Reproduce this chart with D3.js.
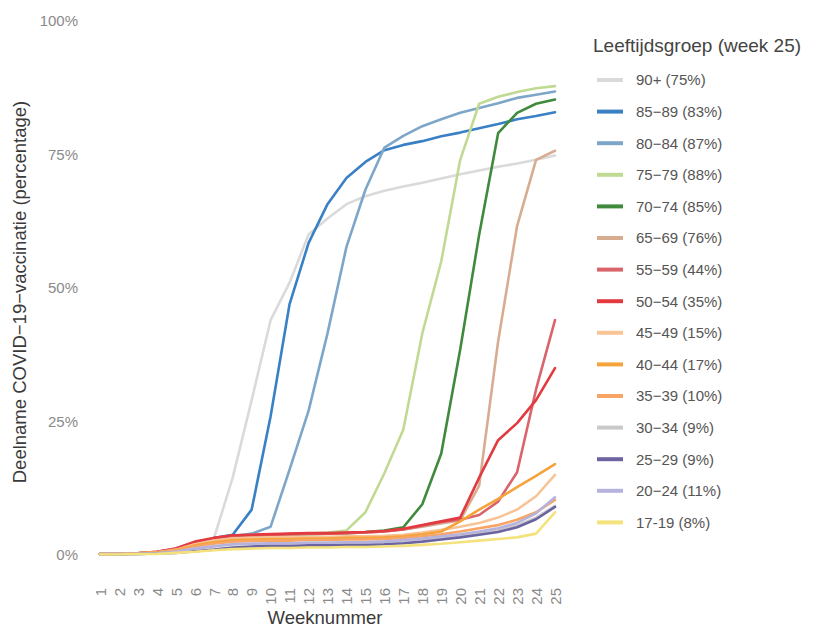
<!DOCTYPE html>
<html>
<head>
<meta charset="utf-8">
<script src="https://cdn.jsdelivr.net/npm/d3@7/dist/d3.min.js"></script>
<style>
  html, body { margin: 0; padding: 0; background: #fff; }
  svg { display: block; font-family: "Liberation Sans", Arial, sans-serif; }
</style>
</head>
<body>
<svg id="chart" width="816" height="627"></svg>
<script>
// ---- data ----
const weeks = d3.range(1, 26);
const yTicks = [0, 25, 50, 75, 100];
const groupNames = ["90+", "85\u221289", "80\u221284", "75\u221279", "70\u221274", "65\u221269", "55\u221259", "50\u221254",
                    "45\u221249", "40\u221244", "35\u221239", "30\u221234", "25\u221229", "20\u221224", "17-19"];
const legendPct = [75, 83, 87, 88, 85, 76, 44, 35, 15, 17, 10, 9, 9, 11, 8];
const groupColors = ["#dadada", "#3a80c4", "#7ea6c8", "#c0da94", "#3f8a3c", "#d8ac90", "#d9646a", "#e23a3f",
                     "#f8c496", "#f6a33c", "#f8a464", "#c9c9c9", "#6c64a0", "#b6b2de", "#f4e27c"];

const v90 = [0.2,0.2,0.3,0.5,1.0,2.0,3.0,14.5,29,44,51,60,63,65.7,67.2,68.2,69,69.7,70.5,71.3,72,72.7,73.3,74,74.8];
const v85 = [0.2,0.2,0.3,0.5,1.0,2.2,3.2,3.8,8.5,26,47,58.4,65.7,70.6,73.6,75.8,76.8,77.5,78.4,79.1,79.9,80.7,81.6,82.2,82.9];
const v80 = [0.2,0.2,0.3,0.5,1.0,2.2,3.0,3.5,4.0,5.3,16,27,41.5,57.7,68.4,76.3,78.5,80.3,81.6,82.8,83.7,84.6,85.6,86.2,86.8];
const v75 = [0.2,0.2,0.3,0.5,1.0,2.2,3.0,3.5,3.7,3.8,3.9,4.0,4.2,4.6,8.0,15.3,23.5,41.5,55,74,84.5,85.8,86.7,87.4,87.8];
const v70 = [0.2,0.2,0.3,0.5,1.0,2.2,3.0,3.4,3.6,3.7,3.8,3.9,4.0,4.1,4.3,4.6,5.2,9.5,19,38.5,60,79,82.8,84.5,85.3];
const v65 = [0.2,0.2,0.3,0.5,1.0,2.2,3.0,3.4,3.6,3.7,3.8,3.9,4.0,4.1,4.2,4.4,4.8,5.3,5.9,6.5,13,40,61.6,74,75.7];
const v55 = [0.2,0.2,0.3,0.6,1.2,2.4,3.1,3.6,3.7,3.8,3.9,4.0,4.0,4.1,4.2,4.4,4.8,5.5,6.2,6.6,7.5,10,15.5,31,44];
const v50 = [0.2,0.2,0.3,0.6,1.2,2.5,3.2,3.7,3.8,3.9,4.0,4.1,4.1,4.2,4.3,4.5,4.9,5.6,6.3,7.0,14.5,21.5,24.7,29,35];
const v45 = [0.2,0.2,0.3,0.5,1.0,2.0,2.7,3.1,3.2,3.3,3.3,3.4,3.4,3.5,3.5,3.6,3.8,4.2,4.7,5.3,6.0,7.0,8.5,11,15];
const v40 = [0.2,0.2,0.3,0.5,0.9,1.8,2.4,2.8,2.9,3.0,3.0,3.1,3.1,3.2,3.2,3.3,3.5,3.9,4.4,6.3,8.5,10.5,12.7,14.8,17];
const v35 = [0.2,0.2,0.3,0.4,0.8,1.6,2.1,2.5,2.6,2.7,2.7,2.8,2.8,2.9,2.9,3.0,3.2,3.5,3.9,4.4,5.0,5.6,6.6,8.0,10.3];
const v30 = [0.2,0.2,0.2,0.3,0.6,1.2,1.7,2.0,2.1,2.2,2.2,2.3,2.3,2.4,2.4,2.5,2.7,3.0,3.3,3.7,4.1,4.6,5.5,7.0,9.2];
const v25 = [0.1,0.1,0.2,0.3,0.4,0.7,1.0,1.4,1.6,1.7,1.7,1.8,1.8,1.9,1.9,2.0,2.2,2.5,2.9,3.3,3.8,4.3,5.2,6.7,9.0];
const v20 = [0.2,0.2,0.2,0.3,0.6,1.2,1.6,2.0,2.1,2.2,2.2,2.3,2.3,2.4,2.4,2.5,2.8,3.1,3.5,3.9,4.4,5.0,6.0,7.8,10.8];
const v17 = [0.1,0.1,0.2,0.2,0.4,0.6,0.9,1.1,1.2,1.3,1.3,1.4,1.4,1.5,1.5,1.6,1.7,1.9,2.1,2.4,2.7,3.0,3.3,4.0,8.0];

const seriesValues = [v90, v85, v80, v75, v70, v65, v55, v50, v45, v40, v35, v30, v25, v20, v17];
const series = groupNames.map((name, i) => ({
  name, pct: legendPct[i], color: groupColors[i],
  values: weeks.map((w, j) => ({ week: w, value: seriesValues[i][j] }))
}));

// ---- layout ----
const svg = d3.select("#chart");
const x = d3.scaleLinear().domain([1, 25]).range([100, 555]);
const y = d3.scaleLinear().domain([0, 100]).range([555, 21]);

// y axis labels
const yAxis = d3.axisLeft(y).tickValues(yTicks).tickFormat(d => d + "%").tickSize(0).tickPadding(0);
const gy = svg.append("g").attr("transform", "translate(78,0)").call(yAxis);
gy.select(".domain").remove();
gy.selectAll("text").attr("fill", "#8a8a8a").attr("font-size", "15px")
  .attr("font-family", "Liberation Sans, Arial, sans-serif");

// x axis labels (rotated)
const xAxis = d3.axisBottom(x).tickValues(weeks).tickFormat(d3.format("d")).tickSize(0).tickPadding(0);
const gx = svg.append("g").attr("transform", "translate(0,588)").call(xAxis);
gx.select(".domain").remove();
gx.selectAll("text")
  .attr("fill", "#8a8a8a").attr("font-size", "15px")
  .attr("font-family", "Liberation Sans, Arial, sans-serif")
  .attr("transform", "rotate(-90)")
  .attr("text-anchor", "end")
  .attr("x", 0).attr("y", 0).attr("dy", "0.35em");

// axis titles
svg.append("text").attr("x", 325).attr("y", 624).attr("text-anchor", "middle")
  .attr("font-size", "18.5px").attr("fill", "#3a3a3a").text("Weeknummer");
svg.append("text").attr("transform", "translate(26,292) rotate(-90)").attr("text-anchor", "middle")
  .attr("font-size", "18.5px").attr("fill", "#3a3a3a").text("Deelname COVID\u221219\u2212vaccinatie (percentage)");

// lines
const line = d3.line().x(d => x(d.week)).y(d => y(d.value));
svg.append("g").selectAll("path").data(series).join("path")
  .attr("d", d => line(d.values))
  .attr("fill", "none")
  .attr("stroke", d => d.color)
  .attr("stroke-width", 2.6)
  .attr("stroke-linejoin", "round")
  .attr("stroke-linecap", "round");

// legend
const lg = svg.append("g");
lg.append("text").attr("x", 593).attr("y", 52).attr("font-size", "19px").attr("fill", "#444")
  .text("Leeftijdsgroep (week 25)");
const item = lg.selectAll("g.item").data(series).join("g").attr("class", "item")
  .attr("transform", (d, i) => `translate(0,${80 + i * 31.6})`);
item.append("line").attr("x1", 597).attr("x2", 623).attr("y1", 0).attr("y2", 0)
  .attr("stroke", d => d.color).attr("stroke-width", 4);
item.append("text").attr("x", 636).attr("y", 0).attr("dy", "0.36em")
  .attr("font-size", "15px").attr("fill", "#555")
  .text(d => `${d.name} (${d.pct}%)`);
</script>
</body>
</html>
